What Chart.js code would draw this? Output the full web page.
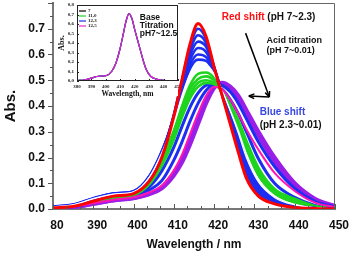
<!DOCTYPE html>
<html><head><meta charset="utf-8">
<script src="https://cdn.jsdelivr.net/npm/chart.js@4.4.1/dist/chart.umd.min.js"></script>
<style>
html,body{margin:0;padding:0;background:#fff;}
#wrap{position:relative;width:350px;height:258px;overflow:hidden;}
#main{position:absolute;left:0;top:0;width:350px;height:258px;}
#inset{position:absolute;left:54px;top:3px;width:125px;height:97px;}
</style></head><body>
<div id="wrap">
<canvas id="main" width="350" height="258"></canvas>
<canvas id="inset" width="125" height="97"></canvas>
</div>
<script>
// ---------- data ----------
const wavelength = [380,385,390,395,400,404,407,410,412,414,416,418,420,422,424,426,428,431,435,440,445,450];

// main panel: acid titration spectra
const acidPH7   = [0.005,0.010,0.030,0.050,0.060,0.110,0.200,0.360,0.500,0.640,0.720,0.670,0.550,0.440,0.330,0.220,0.120,0.050,0.020,0.006,0.002,0.000];
const acidBlue1 = [0.006,0.012,0.033,0.053,0.063,0.115,0.205,0.365,0.500,0.630,0.700,0.660,0.550,0.440,0.340,0.230,0.130,0.060,0.024,0.008,0.002,0.000];
const acidBlue2 = [0.007,0.014,0.036,0.056,0.066,0.120,0.212,0.365,0.495,0.615,0.675,0.645,0.550,0.450,0.350,0.240,0.145,0.065,0.028,0.010,0.003,0.000];
const acidBlue3 = [0.008,0.015,0.038,0.058,0.067,0.123,0.216,0.362,0.485,0.597,0.650,0.630,0.550,0.450,0.355,0.255,0.160,0.075,0.030,0.011,0.003,0.000];
const acidBlue4 = [0.008,0.016,0.040,0.059,0.068,0.126,0.220,0.358,0.475,0.578,0.625,0.610,0.540,0.450,0.360,0.265,0.170,0.080,0.033,0.012,0.003,0.000];
const acidBlue5 = [0.009,0.017,0.041,0.060,0.069,0.128,0.222,0.352,0.465,0.560,0.600,0.590,0.535,0.455,0.370,0.275,0.180,0.090,0.037,0.013,0.004,0.000];
const acidBlue6 = [0.009,0.017,0.042,0.060,0.069,0.130,0.224,0.347,0.455,0.545,0.580,0.575,0.530,0.455,0.375,0.285,0.190,0.095,0.040,0.014,0.004,0.000];
const acidWhite1= [0.008,0.016,0.040,0.058,0.067,0.126,0.218,0.338,0.440,0.525,0.560,0.560,0.525,0.460,0.380,0.295,0.200,0.105,0.045,0.016,0.005,0.000];
const acidWhite2= [0.008,0.016,0.039,0.057,0.066,0.124,0.213,0.330,0.428,0.510,0.545,0.550,0.520,0.460,0.385,0.305,0.215,0.115,0.050,0.018,0.005,0.000];
const acidGreen1= [0.006,0.013,0.034,0.050,0.060,0.115,0.195,0.305,0.398,0.480,0.525,0.530,0.510,0.460,0.390,0.315,0.230,0.130,0.060,0.024,0.007,0.000];
const acidGreen2= [0.006,0.012,0.032,0.048,0.058,0.110,0.187,0.295,0.388,0.465,0.505,0.515,0.500,0.460,0.395,0.325,0.240,0.140,0.066,0.028,0.008,0.000];
const acidGreen3= [0.005,0.011,0.030,0.046,0.056,0.105,0.178,0.283,0.370,0.445,0.490,0.500,0.490,0.455,0.400,0.335,0.255,0.150,0.072,0.033,0.010,0.000];
const acidGreen4= [0.005,0.011,0.029,0.044,0.054,0.098,0.168,0.270,0.355,0.430,0.475,0.490,0.485,0.455,0.405,0.345,0.265,0.160,0.078,0.040,0.012,0.001];
const acidBlue7 = [0.005,0.010,0.028,0.043,0.052,0.088,0.148,0.240,0.320,0.395,0.450,0.480,0.485,0.465,0.425,0.370,0.300,0.195,0.100,0.045,0.014,0.002];
const acidBlue8 = [0.004,0.009,0.025,0.040,0.050,0.075,0.110,0.190,0.260,0.340,0.410,0.460,0.485,0.480,0.455,0.410,0.350,0.260,0.165,0.080,0.030,0.008];
const acidPH001 = [0.003,0.008,0.022,0.036,0.046,0.065,0.090,0.150,0.210,0.290,0.370,0.440,0.475,0.465,0.425,0.370,0.310,0.230,0.140,0.070,0.025,0.008];
const acidPurple1=[0.003,0.007,0.020,0.033,0.042,0.058,0.080,0.130,0.180,0.250,0.330,0.410,0.470,0.490,0.475,0.440,0.385,0.300,0.200,0.100,0.040,0.012];
const acidPurple2=[0.003,0.007,0.020,0.034,0.043,0.060,0.085,0.140,0.190,0.265,0.345,0.425,0.475,0.485,0.465,0.425,0.370,0.285,0.185,0.090,0.035,0.010];

// inset: base titration spectra
const basePH7   = [0.005,0.010,0.030,0.050,0.055,0.100,0.190,0.350,0.490,0.630,0.710,0.660,0.540,0.430,0.320,0.210,0.120,0.050,0.020,0.006,0.002,0.000];
const basePH110 = [0.005,0.010,0.030,0.050,0.055,0.100,0.190,0.350,0.490,0.630,0.710,0.660,0.540,0.430,0.320,0.210,0.120,0.050,0.020,0.006,0.002,0.000];
const basePH123 = [0.005,0.010,0.030,0.050,0.055,0.100,0.190,0.350,0.490,0.630,0.710,0.660,0.540,0.430,0.320,0.210,0.120,0.050,0.020,0.006,0.002,0.000];
const basePH125 = [0.005,0.010,0.030,0.050,0.055,0.100,0.190,0.350,0.490,0.630,0.710,0.660,0.540,0.430,0.320,0.210,0.120,0.050,0.020,0.006,0.002,0.000];

const xTicks = [380,390,400,410,420,430,440,450];
const xTickLabels = ['80','390','400','410','420','430','440','450'];
const insetLegend = ['7','11,0','12,3','12,5'];

// ---------- helpers ----------
const SANS = '"Liberation Sans", Arial, sans-serif';
const SERIF = '"Liberation Serif", "Times New Roman", serif';
function ds(label, vals, color, width, order){
  return {label, data: vals.map((v,i)=>({x: wavelength[i], y: v})), borderColor: color,
    borderWidth: width, pointRadius: 0, fill: false, cubicInterpolationMode: 'monotone', order};
}
const BLUE='#1c2ef2', GREEN='#1fd41f', PURPLE='#9a1ee6', MAG='#ff14b4', RED='#ff0000';
function noPadX(s){ s.paddingLeft = 0; s.paddingRight = 0; }
function noPadY(s){ s.paddingTop = 0; s.paddingBottom = 0; }

const mainDecor = {
  id: 'mainDecor',
  afterDraw(chart){
    const {ctx, chartArea: a, scales: {x, y}} = chart;
    ctx.save();
    ctx.strokeStyle = '#666'; ctx.lineWidth = 1;
    ctx.beginPath(); ctx.moveTo(a.left, a.top + 0.5); ctx.lineTo(a.right - 0.5, a.top + 0.5); ctx.lineTo(a.right - 0.5, a.bottom); ctx.stroke();
    ctx.strokeStyle = '#555';
    for (let k = 0; k <= 21; k++) {
      const px = Math.round(x.getPixelForValue(380 + k * 10 / 3)) + 0.5;
      const len = k % 3 === 0 ? 5 : 3;
      ctx.beginPath(); ctx.moveTo(px, a.bottom); ctx.lineTo(px, a.bottom - len); ctx.stroke();
    }
    for (let k = 0; k <= 16; k++) {
      const py = Math.round(y.getPixelForValue(k * 0.05)) + 0.5;
      const len = k % 2 === 0 ? 5 : 3;
      ctx.beginPath(); ctx.moveTo(a.left - len, py); ctx.lineTo(a.left, py); ctx.stroke();
    }
    // annotations
    ctx.textBaseline = 'middle'; ctx.textAlign = 'left';
    function txt(parts, lx, vy, size){
      ctx.font = 'bold ' + size + 'px ' + SANS;
      let px = x.getPixelForValue(lx); const py = y.getPixelForValue(vy);
      for (const [t, c] of parts) { ctx.fillStyle = c; ctx.fillText(t, px, py); px += ctx.measureText(t).width; }
    }
    txt([['Red shift ', '#ff1010'], ['(pH 7~2.3)', '#111']], 421.9, 0.746, 10);
    txt([['Acid titration', '#111']], 433.0, 0.656, 9);
    txt([['(pH 7~0.01)', '#111']], 433.0, 0.614, 9);
    txt([['Blue shift', '#3a48e0']], 431.3, 0.377, 10);
    txt([['(pH 2.3~0.01)', '#111']], 431.3, 0.326, 10);
    function arrow(l1, v1, l2, v2){
      const x1 = x.getPixelForValue(l1), y1 = y.getPixelForValue(v1);
      const x2 = x.getPixelForValue(l2), y2 = y.getPixelForValue(v2);
      ctx.strokeStyle = '#000'; ctx.fillStyle = '#000'; ctx.lineWidth = 1.5;
      ctx.beginPath(); ctx.moveTo(x1, y1); ctx.lineTo(x2, y2); ctx.stroke();
      const ang = Math.atan2(y2 - y1, x2 - x1), h = 6;
      ctx.beginPath(); ctx.moveTo(x2, y2);
      ctx.lineTo(x2 - h * Math.cos(ang - 0.4), y2 - h * Math.sin(ang - 0.4));
      ctx.moveTo(x2, y2);
      ctx.lineTo(x2 - h * Math.cos(ang + 0.4), y2 - h * Math.sin(ang + 0.4));
      ctx.stroke();
    }
    arrow(427.8, 0.683, 433.7, 0.435);
    arrow(433.7, 0.435, 428.6, 0.439);
    ctx.restore();
  }
};

new Chart(document.getElementById('main'), {
  type: 'line',
  data: { datasets: [
    ds('pH 7', acidPH7, RED, 3, 1),
    ds('b1', acidBlue1, BLUE, 2.6, 5),
    ds('b2', acidBlue2, BLUE, 2.6, 5),
    ds('b3', acidBlue3, BLUE, 2.6, 5),
    ds('b4', acidBlue4, BLUE, 2.6, 5),
    ds('b5', acidBlue5, BLUE, 2.6, 5),
    ds('b6', acidBlue6, BLUE, 2.6, 5),
    ds('w1', acidWhite1, '#ffffff', 1.2, 4),
    ds('w2', acidWhite2, '#ffffff', 1.2, 4),
    ds('g1', acidGreen1, GREEN, 2.6, 6),
    ds('g2', acidGreen2, GREEN, 2.6, 6),
    ds('g3', acidGreen3, GREEN, 2.6, 6),
    ds('g4', acidGreen4, GREEN, 2.6, 6),
    ds('b7', acidBlue7, BLUE, 3, 7),
    ds('b8', acidBlue8, BLUE, 3, 7),
    ds('pH 0.01', acidPH001, MAG, 2, 2),
    ds('p1', acidPurple1, PURPLE, 4, 9),
    ds('p2', acidPurple2, PURPLE, 4, 9)
  ]},
  options: {
    responsive: false, animation: false, devicePixelRatio: 1,
    layout: {padding: {top: 3, right: 15, left: 0, bottom: 0}},
    plugins: {legend: {display: false}, tooltip: {enabled: false}},
    scales: {
      x: {
        type: 'linear', min: 380, max: 450,
        afterFit(s){ s.height = 49; noPadX(s); },
        afterBuildTicks(s){ s.ticks = xTicks.map(v => ({value: v})); },
        ticks: {padding: 9, labelOffset: 4, color: '#111', maxRotation: 0, autoSkip: false,
          font: {family: SANS, size: 12, weight: 'bold'},
          callback: (v) => xTickLabels[xTicks.indexOf(v)] ?? ''},
        grid: {display: false, drawTicks: false},
        border: {display: true, color: '#777', width: 2},
        title: {display: true, text: 'Wavelength / nm', color: '#111',
          font: {family: SANS, size: 12, weight: 'bold'}, padding: {top: 0, bottom: 6}}
      },
      y: {
        min: 0, max: 0.8,
        afterFit(s){ s.width = 53; noPadY(s); },
        ticks: {stepSize: 0.1, padding: 8, color: '#111',
          font: {family: SANS, size: 12, weight: 'bold'},
          callback: (v) => v > 0.75 ? '' : v.toFixed(1)},
        grid: {display: false, drawTicks: false},
        border: {display: true, color: '#777', width: 2},
        title: {display: true, text: 'Abs.', color: '#111',
          font: {family: SANS, size: 15, weight: 'bold'}, padding: {top: 2, bottom: 0}}
      }
    }
  },
  plugins: [mainDecor]
});

// ---------- inset ----------
const insetColors = ['#000000', GREEN, BLUE, '#ee22d0'];
const insetDecor = {
  id: 'insetDecor',
  beforeDraw(chart){
    const {ctx, chartArea: a} = chart;
    ctx.save(); ctx.fillStyle = '#fff';
    ctx.fillRect(0, 0, a.right, chart.height - 4);
    ctx.restore();
  },
  afterDraw(chart){
    const {ctx, chartArea: a, scales: {x, y}} = chart;
    ctx.save();
    ctx.strokeStyle = '#222'; ctx.lineWidth = 1;
    ctx.strokeRect(a.left + 0.5, a.top + 0.5, a.right - a.left - 1, a.bottom - a.top - 1);
    for (const v of xTicks) {
      const px = Math.round(x.getPixelForValue(v)) + 0.5;
      ctx.beginPath(); ctx.moveTo(px, a.bottom); ctx.lineTo(px, a.bottom - 2); ctx.stroke();
    }
    for (let k = 0; k <= 8; k++) {
      const py = Math.round(y.getPixelForValue(k * 0.1)) + 0.5;
      ctx.beginPath(); ctx.moveTo(a.left, py); ctx.lineTo(a.left + 2, py); ctx.stroke();
    }
    // legend
    ctx.font = 'bold 5px ' + SERIF; ctx.textBaseline = 'middle'; ctx.textAlign = 'left';
    insetLegend.forEach((t, i) => {
      const ly = a.top + 6 + i * 5;
      ctx.strokeStyle = insetColors[i]; ctx.lineWidth = 1.2;
      ctx.beginPath(); ctx.moveTo(a.left + 2, ly); ctx.lineTo(a.left + 9, ly); ctx.stroke();
      ctx.fillStyle = '#222'; ctx.fillText(t, a.left + 11, ly);
    });
    ctx.fillStyle = '#111'; ctx.font = 'bold 8.5px ' + SANS;
    ctx.fillText('Base', x.getPixelForValue(423.5), y.getPixelForValue(0.663));
    ctx.fillText('Titration', x.getPixelForValue(423.5), y.getPixelForValue(0.579));
    ctx.fillText('pH7~12.5', x.getPixelForValue(423.5), y.getPixelForValue(0.495));
    ctx.restore();
  }
};
function ids(label, vals, color, order){
  return {label, data: vals.map((v,i)=>({x: wavelength[i], y: v})), borderColor: color,
    borderWidth: 1.2, pointRadius: 0, fill: false, cubicInterpolationMode: 'monotone', order};
}
new Chart(document.getElementById('inset'), {
  type: 'line',
  data: {datasets: [
    ids('7', basePH7, insetColors[0], 4),
    ids('11,0', basePH110, insetColors[1], 3),
    ids('12,3', basePH123, insetColors[2], 2),
    ids('12,5', basePH125, insetColors[3], 1)
  ]},
  options: {
    responsive: false, animation: false, devicePixelRatio: 1,
    layout: {padding: {top: 2, right: 1, left: 0, bottom: 0}},
    plugins: {legend: {display: false}, tooltip: {enabled: false}},
    scales: {
      x: {
        type: 'linear', min: 380, max: 450,
        afterFit(s){ s.height = 19; noPadX(s); },
        afterBuildTicks(s){ s.ticks = xTicks.map(v => ({value: v})); },
        ticks: {padding: 3, color: '#222', maxRotation: 0, autoSkip: false,
          font: {family: SERIF, size: 5, weight: 'bold'}, callback: (v) => String(v)},
        grid: {display: false, drawTicks: false},
        border: {display: false},
        title: {display: true, text: 'Wavelength, nm', color: '#111',
          font: {family: SERIF, size: 7.5, weight: 'bold'}, padding: {top: 0, bottom: 1}}
      },
      y: {
        min: 0, max: 0.8,
        afterFit(s){ s.width = 23; noPadY(s); },
        ticks: {stepSize: 0.1, padding: 3, color: '#222',
          font: {family: SERIF, size: 5, weight: 'bold'},
          callback: (v) => v.toFixed(1).replace('.', ',')},
        grid: {display: false, drawTicks: false},
        border: {display: false},
        title: {display: true, text: 'Abs.', color: '#111',
          font: {family: SERIF, size: 8, weight: 'bold'}, padding: {top: 3, bottom: 0}}
      }
    }
  },
  plugins: [insetDecor]
});
</script>
</body></html>
